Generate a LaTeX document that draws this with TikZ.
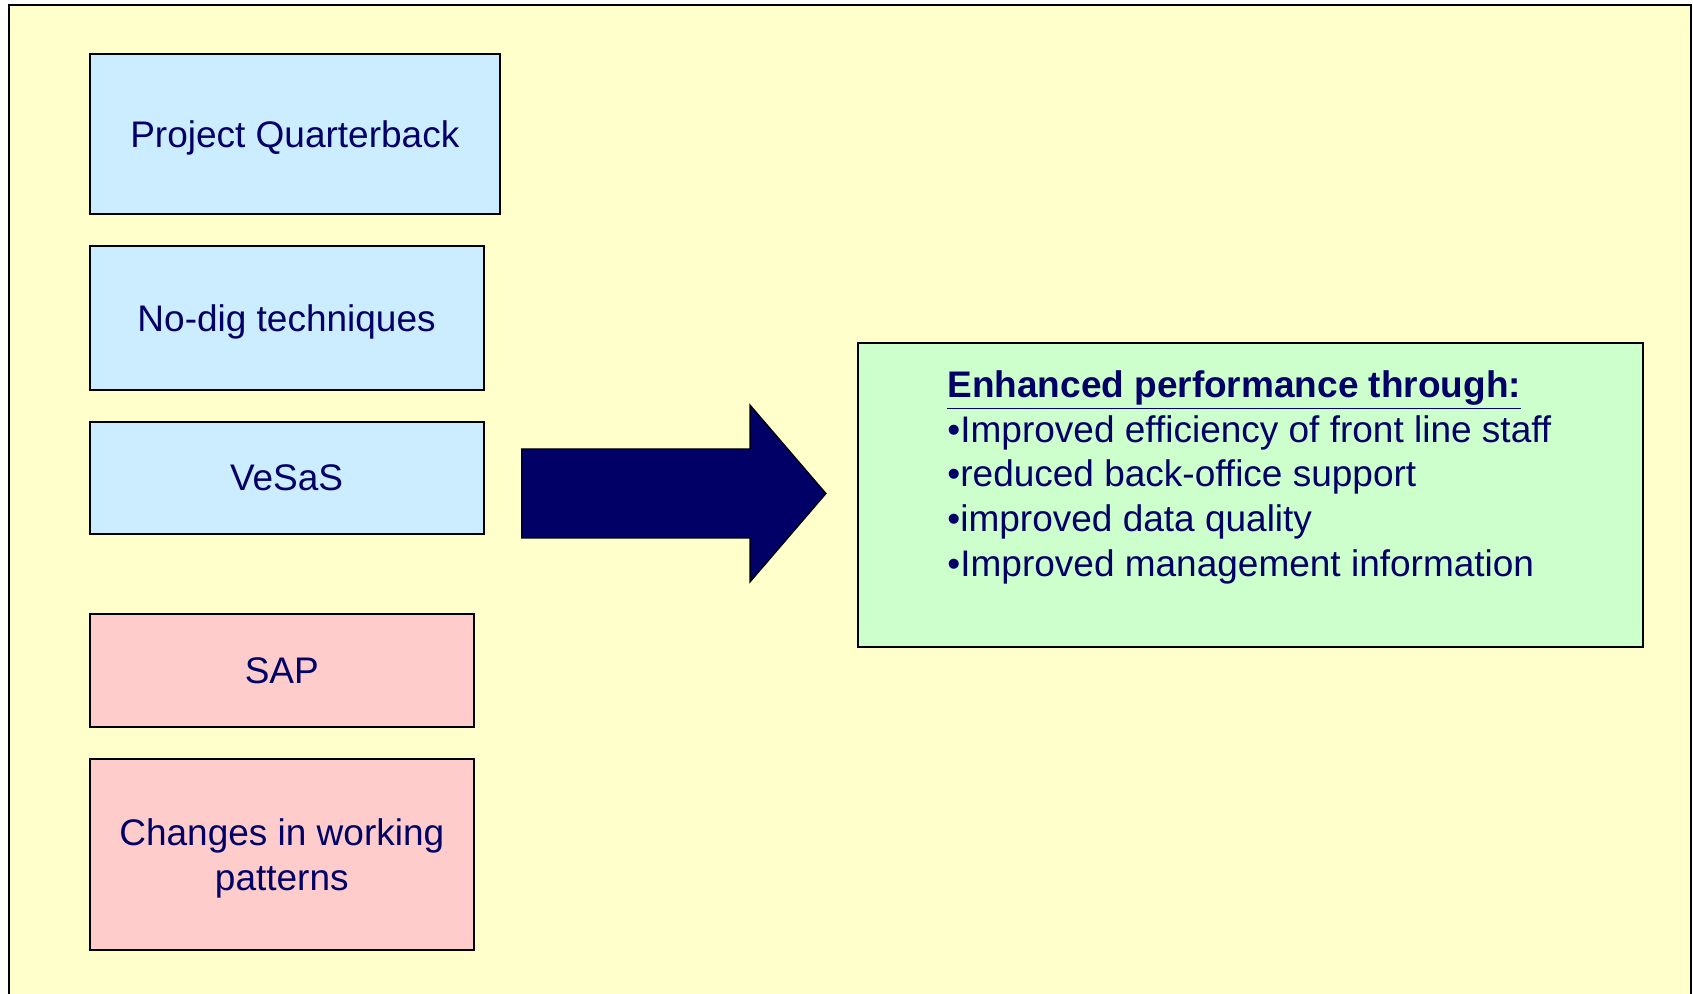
\documentclass[tikz,border=0pt]{standalone}
\usepackage{fontspec}
\setmainfont{Liberation Sans}
\usepackage{tikz}
\usetikzlibrary{positioning}

\definecolor{pagebg}{HTML}{FFFFCC}
\definecolor{bluebox}{HTML}{CCECFF}
\definecolor{pinkbox}{HTML}{FFCCCC}
\definecolor{greenbox}{HTML}{CCFFCC}
\definecolor{navy}{HTML}{000066}

\tikzset{
    factor/.style={draw, line width=1pt, text=navy, align=center, inner sep=0pt,
        text depth=0pt, font=\fontsize{18.5}{22.3}\selectfont},
    tool/.style={factor, fill=bluebox},
    change/.style={factor, fill=pinkbox},
}

\begin{document}
\begin{tikzpicture}[x=1pt, y=-1pt]
    \useasboundingbox (0,0) rectangle (846.5,497);
    \clip (0,0) rectangle (846.5,497);
    \fill[white] (0,0) rectangle (846.5,497);
    \draw[line width=1pt, fill=pagebg] (4.3,2.7) rectangle (845.4,520);

    % what goes in
    \node[tool, minimum width=205.2pt, minimum height=80pt] (quarterback) at (147.4,67) {Project Quarterback};
    \node[tool, minimum width=197pt, minimum height=72pt] (nodig) at (143.3,159) {No-dig techniques};
    \node[tool, minimum width=197pt, minimum height=56pt] (vesas) at (143.3,239) {VeSaS};
    \node[change, minimum width=192.2pt, minimum height=56.5pt] (sap) at (140.9,335.25) {SAP};
    \node[change, minimum width=192.2pt, minimum height=95.5pt] (patterns) at (140.9,427.25) {Changes in working\\patterns};

    % big arrow
    \draw[line width=0.6pt, fill=navy] (260.85,224.5) -- (375,224.5) -- (375,202.5) -- (413,246.75)
        -- (375,291) -- (375,269) -- (260.85,269) -- cycle;

    % what comes out
    \node[factor, fill=greenbox, minimum width=392.5pt, minimum height=152pt] (result) at (625.25,247.5) {};
    \node[text=navy, align=left, inner sep=0pt, anchor=north west,
        font=\fontsize{18.5}{22.3}\selectfont] (gains) at (473.5,185.25)
        {\textbf{\underline{Enhanced performance through:}}\\
         •Improved efficiency of front line staff\\
         •reduced back-office support\\
         •improved data quality\\
         •Improved management information};
\end{tikzpicture}
\end{document}
